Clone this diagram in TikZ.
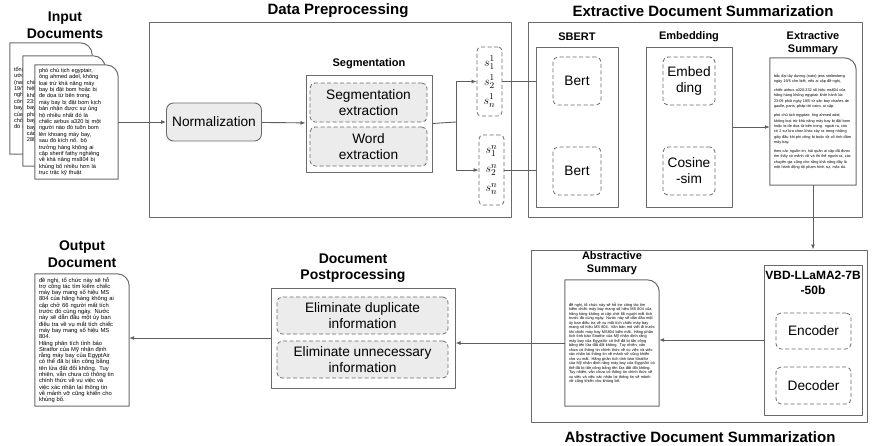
\documentclass[tikz,border=0pt]{standalone}
\usepackage{fontspec}
\setmainfont{Liberation Sans}
\usetikzlibrary{arrows.meta}

\definecolor{framegray}{HTML}{6A6A6A}
\definecolor{linegray}{HTML}{5E5E5E}
\definecolor{boxfill}{HTML}{ECECEC}

% outline of a page with a folded (rounded) top-right corner
\newcommand{\docframe}[1]{%
  \draw[framegray,line width=1pt] (#1.south west) -- (#1.north west)
    -- ([xshift=-12pt]#1.north east) arc[start angle=90,end angle=0,radius=12pt]
    -- (#1.south east) -- cycle;}

\begin{document}
\begin{tikzpicture}[x=1pt,y=-1pt,line join=round,
  panel/.style={draw=framegray,line width=1pt,inner sep=0pt},
  dashbox/.style={draw=framegray,line width=0.8pt,dash pattern=on 4pt off 2.5pt,rounded corners=5pt,inner sep=0pt,align=center,font=\fontsize{13.7}{16}\selectfont},
  greybox/.style={dashbox,fill=boxfill},
  normbox/.style={draw=framegray,line width=0.9pt,rounded corners=7pt,fill=boxfill,inner sep=0pt,font=\fontsize{13.7}{16}\selectfont},
  sentbox/.style={dashbox,rounded corners=4pt,font=\fontsize{13}{19}\selectfont},
  docnode/.style={fill=white,text width=#1,inner xsep=4pt,inner ysep=3pt,align=left},
  secttitle/.style={font=\fontsize{15}{17}\selectfont\bfseries},
  sidetitle/.style={font=\fontsize{14}{16.5}\selectfont\bfseries,align=center},
  boxtitle/.style={font=\fontsize{11}{13}\selectfont\bfseries,align=center},
  flow/.style={draw=linegray,line width=0.9pt,-{Latex[length=5pt,width=4pt]}},
  link/.style={draw=linegray,line width=0.9pt}]

\useasboundingbox (0,0) rectangle (877,445);

% input documents
\node[sidetitle] (intitle) at (65,25) {Input\\Documents};
\node[docnode=74pt,minimum height=111pt,font=\fontsize{5.6}{6.4}\selectfont] (in1) at (51,98.5)
  {tổng thư ký tổ chức hiệp ước bắc đại tây dương (nato) jens stoltenberg ngày 19/5 cho biết, nếu ai cập đề nghị, tổ chức này sẽ hỗ trợ công tác tìm kiếm chiếc máy bay mang số hiệu ms804 của hãng hàng không ai cập chở 66 người mất tích trước đó cùng ngày.};
\docframe{in1}
\node[docnode=74pt,minimum height=110pt,font=\fontsize{5.6}{6.4}\selectfont] (in2) at (64,111)
  {chiếc airbus a320-232 số hiệu ms804 của hãng hàng không egyptair khởi hành lúc 23:09 phút ngày 18/5 từ sân bay charles de gaulle, paris, pháp tới cairo, ai cập. máy bay mất liên lạc khi đang bay trên biển địa trung hải, cách bờ biển ai cập khoảng 280 km.};
\docframe{in2}
\node[docnode=75pt,minimum height=111pt,font=\fontsize{5.6}{6.4}\selectfont] (in3) at (76.5,122)
  {phó chủ tịch egyptair,\\ông ahmed adel, không\\loại trừ khả năng máy\\bay bị đặt bom hoặc bị\\đe dọa từ bên trong.\\máy bay bị đặt bom kịch\\bản nhận được sự ủng\\hộ nhiều nhất đó là\\chiếc airbus a320 bị một\\người nào đó tuồn bom\\lên khoang máy bay,\\sau đó kích nổ. bộ\\trưởng hàng không ai\\cập sherif fathy nghiêng\\về khả năng ms804 bị\\khủng bố nhiều hơn là\\trục trặc kỹ thuật};
\docframe{in3}

% data preprocessing
\node[secttitle] (preptitle) at (338,11) {Data Preprocessing};
\node[panel,minimum width=362pt,minimum height=195pt] (prep) at (330,119.5) {};
\node[normbox,minimum width=95pt,minimum height=38pt] (norm) at (214,122) {Normalization};
\node[boxtitle] (segtitle) at (369,64) {Segmentation};
\node[panel,minimum width=126pt,minimum height=97pt] (segbox) at (369,123.5) {};
\node[greybox,minimum width=117pt,minimum height=39pt] (segext) at (368.5,102.5) {Segmentation\\extraction};
\node[greybox,minimum width=117pt,minimum height=39pt] (wordext) at (368.5,146.5) {Word\\extraction};
\node[sentbox,minimum width=25pt,minimum height=69pt] (s1) at (489.5,81.5) {$s_1^1$\\$s_2^1$\\$s_n^1$};
\node[sentbox,minimum width=25pt,minimum height=70pt] (sn) at (491.5,170) {$s_1^n$\\$s_2^n$\\$s_n^n$};
\coordinate (split) at (456,122);

% extractive document summarization
\node[secttitle] (exttitle) at (703,11) {Extractive Document Summarization};
\node[panel,minimum width=334pt,minimum height=195pt] (ext) at (695,119.5) {};
\node[boxtitle] (sberttitle) at (577,37) {SBERT};
\node[panel,minimum width=82pt,minimum height=160pt] (sbert) at (577,127) {};
\node[dashbox,minimum width=48pt,minimum height=48pt] (bert1) at (577,81) {Bert};
\node[dashbox,minimum width=48pt,minimum height=48pt] (bert2) at (577,171) {Bert};
\node[boxtitle] (embtitle) at (689,37) {Embedding};
\node[panel,minimum width=86pt,minimum height=160pt] (emb) at (689,127) {};
\node[dashbox,minimum width=52pt,minimum height=48pt] (embed) at (689,81) {Embed\\ding};
\node[dashbox,minimum width=52pt,minimum height=48pt] (cosine) at (689,171) {Cosine\\-sim};
\node[boxtitle] (extsumtitle) at (813,43.5) {Extractive\\Summary};
\node[docnode=78pt,minimum height=127pt,font=\fontsize{3.8}{5.3}\selectfont] (extsum) at (813,121.5)
  {bắc đại tây dương (nato) jens stoltenberg ngày 19/5 cho biết, nếu ai cập đề nghị,\par\vspace{4pt}
   chiếc airbus a320-232 số hiệu ms804 của hãng hàng không egyptair khởi hành lúc 23:09 phút ngày 18/5 từ sân bay charles de gaulle, paris, pháp tới cairo, ai cập.\par\vspace{4pt}
   phó chủ tịch egyptair, ông ahmed adel, không loại trừ khả năng máy bay bị đặt bom hoặc bị đe dọa từ bên trong. ngoài ra, còn có 2 sự lựa chọn khác xảy ra trong những giây đầu khi phi công bị buộc tội cố tình đâm máy bay.\par\vspace{4pt}
   theo các nguồn tin, hải quân ai cập đã được tìm thấy có mảnh vỡ và thi thể người ra, các chuyên gia cũng cho rằng khả năng đây là một hành động tội phạm hình sự, mặc dù.};
\docframe{extsum}

% abstractive document summarization
\node[secttitle] (abstitle) at (700,437) {Abstractive Document Summarization};
\node[panel,minimum width=336pt,minimum height=172pt] (absbox) at (699,336) {};
\node[boxtitle] (absumtitle) at (612,263) {Abstractive\\Summary};
\node[docnode=86pt,minimum height=126pt,font=\fontsize{3.9}{4.5}\selectfont] (absum) at (612,343)
  {đề nghị, tổ chức này sẽ hỗ trợ công tác tìm kiếm chiếc máy bay mang số hiệu MS 804 của hãng hàng không ai cập chở 66 người mất tích trước đó cùng ngày. Nước này sẽ dẫn đầu một ủy ban điều tra về vụ mất tích chiếc máy bay mang số hiệu MS 804. Văn bản mô viết đi trước khi chiếc máy bay MS804 biến mất. Hãng phân tích tình báo Stratfor của Mỹ nhận định rằng máy bay của EgyptAir có thể đã bị tấn công bằng tên lửa đất đối không. Tuy nhiên, vẫn chưa có thông tin chính thức về vụ việc và việc xác nhận lại thông tin về mảnh vỡ cũng khiến cho vụ mất. Hãng phân tích tình báo Stratfor của Mỹ nhận định rằng máy bay của EgyptAir có thể đã bị tấn công bằng tên lửa đất đối không. Tuy nhiên, vẫn chưa có thông tin chính thức về vụ việc và việc xác nhận lại thông tin về mảnh vỡ cũng khiến cho khủng bố.};
\docframe{absum}
\node[panel,minimum width=98pt,minimum height=150pt] (vbd) at (813,340) {};
\node[font=\fontsize{12}{15}\selectfont\bfseries,align=center] (vbdtitle) at (813,283) {VBD-LLaMA2-7B\\-50b};
\node[dashbox,minimum width=75pt,minimum height=36pt] (enc) at (813.5,331) {Encoder};
\node[dashbox,minimum width=75pt,minimum height=37pt] (dec) at (813.5,385.5) {Decoder};

% document postprocessing
\node[sidetitle] (posttitle) at (353,268) {Document\\Postprocessing};
\node[panel,minimum width=184pt,minimum height=100pt] (post) at (363,338) {};
\node[greybox,minimum width=171pt,minimum height=37pt] (dup) at (362.5,315.5) {Eliminate duplicate\\information};
\node[greybox,minimum width=171pt,minimum height=37pt] (unn) at (362.5,359.5) {Eliminate unnecessary\\information};

% output document
\node[sidetitle] (outtitle) at (82,254) {Output\\Document};
\node[docnode=86pt,minimum height=128pt,font=\fontsize{5.8}{6.3}\selectfont] (outdoc) at (82,340)
  {đề nghị, tổ chức này sẽ hỗ\\trợ công tác tìm kiếm chiếc\\máy bay mang số hiệu MS\\804 của hãng hàng không ai\\cập chở 66 người mất tích\\trước đó cùng ngày. Nước\\này sẽ dẫn đầu một ủy ban\\điều tra về vụ mất tích chiếc\\máy bay mang số hiệu MS\\804.\\Hãng phân tích tình báo\\Stratfor của Mỹ nhận định\\rằng máy bay của EgyptAir\\có thể đã bị tấn công bằng\\tên lửa đất đối không. Tuy\\nhiên, vẫn chưa có thông tin\\chính thức về vụ việc và\\việc xác nhận lại thông tin\\về mảnh vỡ cũng khiến cho\\khủng bố.};
\docframe{outdoc}

% connectors
\draw[flow] (in3.east) -- (norm.west);
\draw[flow] (norm) -- (segbox);
\draw[link] (segbox.east) -- (split);
\draw[flow] (split) |- (s1.west);
\draw[flow] (split) |- (sn.west);
\draw[link] (s1.east) -- (s1.east -| sbert.west);
\draw[link] (sn.east) -- (sn.east -| sbert.west);
\draw[flow] (emb.east) -- (emb.east -| extsum.west);
\draw[flow] (extsum.south) -- (extsum.south |- absbox.north);
\draw[flow] (vbd.west) -- (vbd.west -| absum.east);
\draw[flow] (absum.west) -- (absum.west -| post.east);
\draw[flow] (post.west) -- (post.west -| outdoc.east);
\end{tikzpicture}
\end{document}
